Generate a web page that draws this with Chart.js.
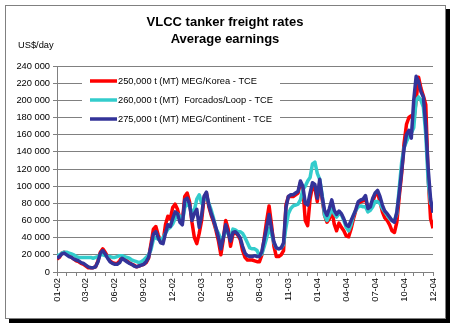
<!DOCTYPE html>
<html>
<head>
<meta charset="utf-8">
<script src="https://cdn.jsdelivr.net/npm/chart.js@4.4.1/dist/chart.umd.min.js"></script>
<style>
html,body{margin:0;padding:0;background:#fff;}
#wrap{position:relative;width:454px;height:326px;}
</style>
</head>
<body>
<div id="wrap"><canvas id="c" width="454" height="326"></canvas></div>
<script>
// ---- DATA (US$/day, weekly, Jan 2002 - Dec 2004) ----
const tickLabels = ['01-02','03-02','06-02','09-02','12-02','02-03','05-03','08-03','11-03','01-04','04-04','07-04','10-04','12-04'];
const seriesNames = ['250,000 t (MT) MEG/Korea - TCE','260,000 t (MT)  Forcados/Loop - TCE','275,000 t (MT) MEG/Continent - TCE'];
const megKorea = [
15,17,22,23,21,19,17,15,13,12,10,9,7,5,5,5,6,13,23,27,
23,18,13,11,10,10,13,18,16,13,11,9,8,6,7,8,9,11,16,33,
50,53,43,36,35,55,65,62,75,79,73,62,58,88,92,82,58,40,33,45,
60,86,92,76,66,58,48,36,20,38,60,50,30,44,46,43,38,25,17,14,
14,14,13,12,12,20,40,60,77,55,30,18,18,20,25,78,88,88,88,90,
92,104,98,60,54,85,100,98,82,104,85,66,58,62,74,56,48,57,52,48,
42,41,50,62,72,80,82,83,86,72,74,82,90,92,82,70,63,60,55,48,
46,58,88,115,150,172,180,182,176,200,227,214,205,195,110,62,51
].map(v => v * 1000);
const forcadosLoop = [
19,20,22,23,23,22,21,20,18,17,17,17,17,17,17,16,17,18,20,20,
19,18,18,17,17,18,19,19,18,17,16,14,13,12,11,12,14,17,20,26,
38,40,38,38,40,45,50,52,56,62,68,65,58,75,80,76,70,72,85,90,
80,84,88,80,72,62,50,45,38,40,48,45,40,50,49,47,47,45,40,34,
28,27,27,25,19,21,30,40,51,44,34,28,27,28,32,52,68,74,77,78,
79,84,96,100,106,110,126,128,115,108,90,66,60,66,74,68,64,68,67,60,
52,48,55,66,72,76,77,76,76,70,72,76,82,82,80,74,70,66,62,60,
60,68,98,128,145,152,158,162,168,200,204,200,192,160,105,80,76
].map(v => v * 1000);
const megContinent = [
16,18,21,22,20,18,17,15,14,13,11,10,8,6,5,5,6,12,22,25,
21,16,12,10,9,9,11,16,14,12,10,9,7,6,7,8,9,12,17,30,
44,47,40,34,33,45,55,53,62,70,68,58,55,84,86,79,60,68,73,52,
66,88,93,78,68,60,51,40,27,40,55,46,36,46,47,44,40,30,22,19,
18,18,19,18,18,24,38,52,67,50,35,28,27,28,34,75,88,90,90,92,
94,106,100,80,78,92,104,102,86,108,88,72,66,74,84,72,67,71,68,62,
55,53,60,66,73,82,84,85,89,74,76,86,92,95,88,78,71,68,64,60,
58,70,92,118,144,160,165,156,200,228,222,210,204,170,120,85,69
].map(v => v * 1000);
const weekIndex = megContinent.map((_, i) => i);

const colors = ['#FF0000', '#33CCCC', '#333399'];
const GRID = '#808080';
const FONT = 'Arial, "Liberation Sans", sans-serif';

const framePlugin = {
  id: 'frame',
  beforeDraw(chart) {
    const ctx = chart.ctx;
    ctx.save();
    ctx.fillStyle = '#fff';
    ctx.fillRect(0, 0, chart.width, chart.height);
    ctx.fillStyle = '#000';
    ctx.fillRect(446, 9, 4, 314);
    ctx.fillRect(9, 319, 441, 4);
    ctx.strokeStyle = GRID;
    ctx.lineWidth = 1;
    ctx.strokeRect(5.5, 5.5, 440, 313);
    ctx.fillStyle = '#000';
    ctx.textAlign = 'center';
    ctx.textBaseline = 'middle';
    ctx.font = 'bold 13px ' + FONT;
    ctx.fillText('VLCC tanker freight rates', 225, 22);
    ctx.fillText('Average earnings', 225, 39);
    ctx.font = '9.3px ' + FONT;
    ctx.textAlign = 'left';
    ctx.fillText('US$/day', 18, 45);
    ctx.restore();
  },
  beforeDatasetsDraw(chart) {
    const ctx = chart.ctx;
    ctx.save();
    ctx.fillStyle = '#fff';
    ctx.fillRect(82, 71, 198, 58);
    const rows = [81, 100, 119];
    ctx.font = '9.3px ' + FONT;
    ctx.textBaseline = 'middle';
    ctx.textAlign = 'left';
    chart.data.datasets.forEach((ds, i) => {
      ctx.strokeStyle = ds.borderColor;
      ctx.lineWidth = 3.5;
      ctx.beginPath();
      ctx.moveTo(90, rows[i]);
      ctx.lineTo(117, rows[i]);
      ctx.stroke();
      ctx.fillStyle = '#000';
      ctx.fillText(ds.label, 118, rows[i] + 0.5);
    });
    ctx.restore();
  }
};

new Chart(document.getElementById('c'), {
  type: 'line',
  data: {
    labels: weekIndex,
    datasets: [
      { label: seriesNames[0], data: megKorea, borderColor: colors[0], order: 3 },
      { label: seriesNames[1], data: forcadosLoop, borderColor: colors[1], order: 2 },
      { label: seriesNames[2], data: megContinent, borderColor: colors[2], order: 1 }
    ]
  },
  options: {
    responsive: false,
    animation: false,
    layout: { padding: { left: 0, right: 21, top: 66, bottom: 0 } },
    elements: {
      line: { borderWidth: 3.5, tension: 0, borderJoinStyle: 'round', fill: false },
      point: { radius: 0, hoverRadius: 0 }
    },
    plugins: { legend: { display: false }, title: { display: false }, tooltip: { enabled: false } },
    scales: {
      x: {
        type: 'linear', min: 0, max: 156,
        afterFit(s) { s.height = 54; },
        border: { color: GRID, width: 1 },
        grid: { drawOnChartArea: false, drawTicks: true, tickLength: 4, color: GRID },
        ticks: {
          stepSize: 4, autoSkip: false, maxRotation: 90, minRotation: 90, padding: 2,
          color: '#000', font: { family: FONT, size: 9.3 },
          callback: v => (v % 12 === 0 ? tickLabels[v / 12] : '')
        }
      },
      y: {
        min: 0, max: 240000,
        afterFit(s) { s.width = 57; },
        border: { color: GRID, width: 1 },
        grid: { color: GRID, tickLength: 4, lineWidth: 1 },
        ticks: {
          stepSize: 20000, padding: 3, color: '#000', font: { family: FONT, size: 9.3 },
          callback: v => String(v).replace(/\B(?=(\d{3})+(?!\d))/g, ' ')
        }
      }
    }
  },
  plugins: [framePlugin]
});
</script>
</body>
</html>
